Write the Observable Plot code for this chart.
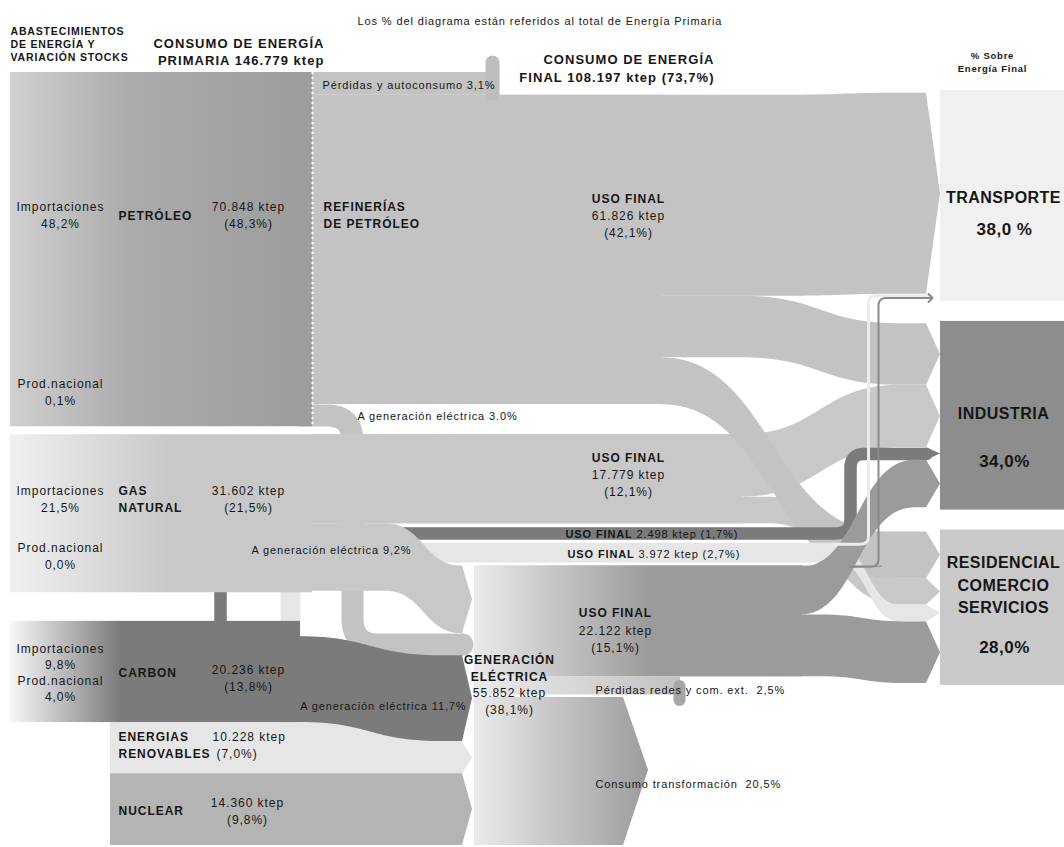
<!DOCTYPE html>
<html lang="es"><head><meta charset="utf-8">
<script src="https://cdn.jsdelivr.net/npm/d3@7"></script>
<script src="https://cdn.jsdelivr.net/npm/@observablehq/plot@0.6"></script>
<style>html,body{margin:0;padding:0;background:#fff;overflow:hidden}</style>
</head><body><div id="chart"></div>
<script>
// ================= DATA =================
const primaryTotalKtep = 146.779;
const primaryTitle = "CONSUMO DE ENERGÍA\nPRIMARIA 146.779 ktep";
const finalTitle = "CONSUMO DE ENERGÍA\nFINAL 108.197 ktep (73,7%)";
const noteText = "Los % del diagrama están referidos al total de Energía Primaria";
const supplyTitle = "ABASTECIMIENTOS\nDE ENERGÍA Y\nVARIACIÓN STOCKS";
const sectorTitle = "% Sobre\nEnergía Final";

const sourceNames = ["PETRÓLEO", "GAS\nNATURAL", "CARBON", "ENERGIAS\nRENOVABLES", "NUCLEAR"];
const sourceKtep = [70.848, 31.602, 20.236, 10.228, 14.360];
const sourceKtepLabel = ["70.848 ktep", "31.602 ktep", "20.236 ktep", "10.228 ktep", "14.360 ktep"];
const sourcePctLabel = ["(48,3%)", "(21,5%)", "(13,8%)", "(7,0%)", "(9,8%)"];
const importPct = ["48,2%", "21,5%", "9,8%"];
const nationalPct = ["0,1%", "0,0%", "4,0%"];

// final uses: oil, gas, coal, renewables, electricity
const finalUseKtep = [61.826, 17.779, 2.498, 3.972, 22.122];
const finalUseKtepLabel = ["61.826 ktep", "17.779 ktep", "2.498 ktep", "3.972 ktep", "22.122 ktep"];
const finalUsePctLabel = ["(42,1%)", "(12,1%)", "(1,7%)", "(2,7%)", "(15,1%)"];

const oilLossPct = 3.1, oilLossLabel = "3,1%";
const toPowerPct = [3.0, 9.2, 11.7];          // oil, gas, coal -> generación eléctrica
const toPowerLabel = ["3.0%", "9,2%", "11,7%"];
const genKtepLabel = "55.852 ktep", genPctLabel = "(38,1%)";
const genLossPct = 2.5, genTransformPct = 20.5;
const genLossLabel = "2,5%", genTransformLabel = "20,5%";

const sectorNames = ["TRANSPORTE", "INDUSTRIA", "RESIDENCIAL\nCOMERCIO\nSERVICIOS"];
const sectorPct = [38.0, 34.0, 28.0];
const sectorPctLabel = ["38,0 %", "34,0%", "28,0%"];

// estimated allocation of each final-use flow to [Transporte, Industria, Residencial] (ktep)
const oilToSector   = [40.2, 12.3, 9.326];
const gasToSector   = [0, 12.5, 5.279];
const coalToSector  = [0, 2.498, 0];
const renewToSector = [0.6, 0, 3.372];
const elecToSector  = [0.3, 9.5, 12.322];

// ================= LAYOUT =================
const W = 1064, H = 847, K = 5, topPx = 72;            // K: px per ktep
const yDomain = [-topPx / K, (H - topPx) / K];
const pagePx = px => (px - topPx) / K;                  // page position -> layout units
const kt = p => p * primaryTotalKtep / 100;
const X = {left: 10, fade: 110, ref: 312, coalEnd: 300, genIn: 462, gen: 474, secTip: 926, sec: 940,
           coalUp: 220, renewUp: 290, oilDown: 352};
const C = {oil: "#c3c3c3", gas: "#c8c8c8", coal: "#7b7b7b", ren: "#e6e6e6", nuc: "#b4b4b4", elec: "#9b9b9b",
           T: "#f0f0f0", I: "#8d8d8d", R: "#c9c9c9", text: "#161616"};

function stack(start, values, g = 0) {
  let y = start;
  return values.map(v => { const s = {y0: y, y1: y + v, c: y + v / 2}; y += v + g; return s; });
}
const slot = (y0, v) => ({y0, y1: y0 + v, c: y0 + v / 2});

const gapKt = 1.6;
const oil = slot(0, sourceKtep[0]);
const gas = slot(oil.y1 + gapKt, sourceKtep[1]);
const bottom = pagePx(H - 2);
const nuc = slot(bottom - sourceKtep[4], sourceKtep[4]);
const ren = slot(nuc.y0 - sourceKtep[3], sourceKtep[3]);
const coal = slot(ren.y0 - sourceKtep[2], sourceKtep[2]);

const oilLoss = kt(oilLossPct);
const oilGen = kt(toPowerPct[0]), gasGen = kt(toPowerPct[1]), coalGen = kt(toPowerPct[2]);
const renGen = sourceKtep[3] - finalUseKtep[3];
const genLoss = kt(genLossPct), genTrans = kt(genTransformPct);
const gen = slot(bottom - (finalUseKtep[4] + genLoss + genTrans), finalUseKtep[4] + genLoss + genTrans);

const oilSlots = stack(oil.y0 + oilLoss, oilToSector);
const oilGenSlot = slot(oilSlots[2].y1, oilGen);
const gasSlots = stack(gas.y0, gasToSector.slice(1));
const gasGenSlot = slot(gas.y0 + finalUseKtep[1], gasGen);
const coalLine = slot(gasGenSlot.y0 + 0.7, finalUseKtep[2]);
const renLine = slot(coalLine.y1 + 0.6, finalUseKtep[3]);
const elecSlots = stack(gen.y0, elecToSector);
const genIn = stack(gen.y0, [gasGen, oilGen, coalGen, renGen, sourceKtep[4]]);
const lossSlot = slot(elecSlots[2].y1, genLoss);
const transSlot = slot(lossSlot.y1, genTrans);

const secTop = pagePx(90), secBot = pagePx(685), secGap = 4;
const boxes = stack(secTop, sectorPct.map(p => p * (secBot - secTop - 2 * secGap) / 100), secGap);
const centered = (box, vals) => stack(box.y0 + ((box.y1 - box.y0) - d3.sum(vals)) / 2, vals);
const [tOil, tRen, tElec] = centered(boxes[0], [oilToSector[0], renewToSector[0], elecToSector[0]]);
const [iOil, iGas, iCoal, iElec] = centered(boxes[1], [oilToSector[1], gasToSector[1], coalToSector[1], elecToSector[1]]);
const [rOil, rGas, rRen, rElec] = centered(boxes[2], [oilToSector[2], gasToSector[2], renewToSector[2], elecToSector[2]]);

// ---- geometry helpers ----
function band(x0, s, xs, xe, t, x1) {
  const pts = [{x: x0, y1: s.y0, y2: s.y1}, {x: xs, y1: s.y0, y2: s.y1}, {x: xe, y1: t.y0, y2: t.y1}];
  if (x1 > xe) pts.push({x: x1, y1: t.y0, y2: t.y1});
  return pts;
}
const flat = (x0, s, x1) => [{x: x0, y1: s.y0, y2: s.y1}, {x: x1, y1: s.y0, y2: s.y1}];
const span = (a, b) => ({y0: a.y0, y1: b.y1});
const tip = (x0, s, x1) => [{x: x0, y1: s.y0, y2: s.y1}, {x: x1, y1: (s.y0 + s.y1) / 2, y2: (s.y0 + s.y1) / 2}];
function route(points, r) {
  const P = points.map(([x, y]) => [x, y * K]);
  const out = [P[0]];
  for (let i = 1; i < P.length - 1; i++) {
    const a = P[i - 1], b = P[i], c = P[i + 1];
    const d1 = Math.hypot(b[0] - a[0], b[1] - a[1]), d2 = Math.hypot(c[0] - b[0], c[1] - b[1]);
    const r1 = Math.min(r, d1 / 2), r2 = Math.min(r, d2 / 2);
    const p1 = [b[0] + (a[0] - b[0]) * r1 / d1, b[1] + (a[1] - b[1]) * r1 / d1];
    const p2 = [b[0] + (c[0] - b[0]) * r2 / d2, b[1] + (c[1] - b[1]) * r2 / d2];
    for (let k = 0; k <= 12; k++) {
      const t = k / 12, u = 1 - t;
      out.push([u * u * p1[0] + 2 * u * t * b[0] + t * t * p2[0], u * u * p1[1] + 2 * u * t * b[1] + t * t * p2[1]]);
    }
  }
  out.push(P[P.length - 1]);
  return out.map(([x, y]) => ({x, y: y / K}));
}
const A = (data, fill, curve = "bump-x") => Plot.areaY(data, {x: "x", y1: "y1", y2: "y2", fill, curve});
const TIP = (s, fill, x0 = X.secTip, x1 = X.sec) => A(tip(x0, s, x1), fill, "linear");
const LN = (pts, stroke, w, extra = {}) => Plot.line(pts, {x: "x", y: "y", stroke, strokeWidth: w, ...extra});
const R = (x1, x2, s, fill) => Plot.rect([{x1, x2, y1: s.y0, y2: s.y1}], {x1: "x1", x2: "x2", y1: "y1", y2: "y2", fill});
const TX = (data, o) => Plot.text(data, {x: "x", y: "y", text: "t", fill: C.text, lineAnchor: "middle",
  textAnchor: o.anchor || "middle", fontSize: o.size || 12, fontWeight: o.weight || "normal", lineHeight: o.lh || 1.42});

// ---- labels ----
const oilLab = oil.y0 + 0.40 * sourceKtep[0];
const gasLab = gas.y0 + 0.40 * sourceKtep[1];
const renLab = ren.c - 0.8;
const boldLabels = [
  {x: 118, y: oilLab, t: sourceNames[0]},
  {x: 118, y: gasLab, t: sourceNames[1]},
  {x: 118, y: coal.c, t: sourceNames[2]},
  {x: 118, y: renLab, t: sourceNames[3]},
  {x: 118, y: nuc.c, t: sourceNames[4]},
  {x: 323, y: oilLab, t: "REFINERÍAS\nDE PETRÓLEO"}
];
const lineBold = [
  {x: 565, y: coalLine.c, t: "USO FINAL"},
  {x: 567, y: renLine.c, t: "USO FINAL"}
];
const lineNormal = [
  {x: 636, y: coalLine.c, t: finalUseKtepLabel[2] + " " + finalUsePctLabel[2]},
  {x: 638, y: renLine.c, t: finalUseKtepLabel[3] + " " + finalUsePctLabel[3]}
];
const midBold = [
  {x: 628, y: oilSlots[0].y0 + 20.45, t: "USO FINAL"},
  {x: 628, y: gas.y0 + 4.4, t: "USO FINAL"},
  {x: 615, y: gen.y0 + 9.1, t: "USO FINAL"},
  {x: 509, y: gen.y0 + 20.2, t: "GENERACIÓN\nELÉCTRICA"}
];
const midNormal = [
  {x: 60, y: oilLab, t: "Importaciones\n" + importPct[0]},
  {x: 248, y: oilLab, t: sourceKtepLabel[0] + "\n" + sourcePctLabel[0]},
  {x: 60, y: oil.y0 + 0.9 * sourceKtep[0], t: "Prod.nacional\n" + nationalPct[0]},
  {x: 60, y: gasLab, t: "Importaciones\n" + importPct[1]},
  {x: 248, y: gasLab, t: sourceKtepLabel[1] + "\n" + sourcePctLabel[1]},
  {x: 60, y: gas.y0 + 0.76 * sourceKtep[1], t: "Prod.nacional\n" + nationalPct[1]},
  {x: 248, y: coal.c + 1.0, t: sourceKtepLabel[2] + "\n" + sourcePctLabel[2]},
  {x: 247, y: nuc.c, t: sourceKtepLabel[4] + "\n" + sourcePctLabel[4]},
  {x: 628, y: oilSlots[0].y0 + 25.55, t: finalUseKtepLabel[0] + "\n" + finalUsePctLabel[0]},
  {x: 628, y: gas.y0 + 9.5, t: finalUseKtepLabel[1] + "\n" + finalUsePctLabel[1]},
  {x: 615, y: gen.y0 + 14.4, t: finalUseKtepLabel[4] + "\n" + finalUsePctLabel[4]},
  {x: 509, y: gen.y0 + 26.8, t: genKtepLabel + "\n" + genPctLabel}
];
const coalImp = [{x: 60, y: coal.c, t: "Importaciones\n" + importPct[2] + "\nProd.nacional\n" + nationalPct[2]}];
const startNormal = [
  {x: 212, y: renLab - 1.7, t: sourceKtepLabel[3]},
  {x: 216, y: renLab + 1.7, t: sourcePctLabel[3]}
];
const smallStart = [
  {x: 322, y: oilLoss / 2, t: "Pérdidas y autoconsumo " + oilLossLabel},
  {x: 357, y: oilGenSlot.c, t: "A generación eléctrica " + toPowerLabel[0]},
  {x: 595, y: lossSlot.c + 0.6, t: "Pérdidas redes y com. ext.  " + genLossLabel},
  {x: 595, y: transSlot.c + 2.6, t: "Consumo transformación  " + genTransformLabel}
];
const smallEnd = [
  {x: 411, y: gasGenSlot.y0 + 5, t: "A generación eléctrica " + toPowerLabel[1]},
  {x: 466, y: genIn[2].c + 1.2, t: "A generación eléctrica " + toPowerLabel[2]}
];
const secFrac = [[0.5, 0.65], [0.48, 0.73], [0.345, 0.74]];
const secNames = boxes.map((b, i) => ({x: 1003, y: b.y0 + secFrac[i][0] * (b.y1 - b.y0), t: sectorNames[i]}));
const secPcts = boxes.map((b, i) => ({x: 1004, y: b.y0 + secFrac[i][1] * (b.y1 - b.y0), t: sectorPctLabel[i]}));

// ================= PLOT =================
const chart = Plot.plot({
  width: W, height: H, margin: 0,
  x: {domain: [0, W], range: [0, W], axis: null},
  y: {domain: yDomain, range: [0, H], axis: null},
  style: {fontFamily: "'Liberation Sans', Arial, sans-serif", background: "#fff", overflow: "hidden"},
  marks: [
    // sector boxes
    R(X.sec, W, boxes[0], C.T), R(X.sec, W, boxes[1], C.I), R(X.sec, W, boxes[2], C.R),
    // oil -> generación (behind gas)
    LN(route([[X.ref - 12, oilGenSlot.c], [X.oilDown, oilGenSlot.c], [X.oilDown, genIn[1].c], [X.genIn, genIn[1].c]], 26), C.oil, oilGen * K),
    // oil & gas final uses (flat trunks first, to avoid seams)
    A(flat(X.ref, span(oilSlots[0], oilSlots[2]), 662), C.oil, "linear"),
    A(flat(X.ref, span(gasSlots[0], gasSlots[1]), 742), C.gas, "linear"),
    A(band(X.ref, oilSlots[0], 780, 900, tOil, X.secTip), C.oil), TIP(tOil, C.oil),
    A(band(X.ref, oilSlots[1], 740, 900, iOil, X.secTip), C.oil), TIP(iOil, C.oil),
    A(band(X.ref, gasSlots[0], 740, 900, iGas, X.secTip), C.gas), TIP(iGas, C.gas),
    A(band(X.ref, gasSlots[1], 770, 900, rGas, X.secTip), C.gas), TIP(rGas, C.gas),
    A(band(X.ref, oilSlots[2], 660, 885, rOil, X.secTip), C.oil), TIP(rOil, C.oil),
    // renewables final use
    LN(route([[X.renewUp, ren.y0 + 3], [X.renewUp, renLine.c], [836, renLine.c]], 16), C.ren, finalUseKtep[3] * K),
    A(band(830, slot(renLine.y0 + renewToSector[0], renewToSector[2]), 836, 900, rRen, X.secTip), C.ren), TIP(rRen, C.ren),
    // coal final use
    LN(route([[X.coalUp, coal.y0 + 3], [X.coalUp, coalLine.c], [850, coalLine.c], [850, iCoal.c], [X.secTip, iCoal.c]], 14), C.coal, finalUseKtep[2] * K),
    TIP(iCoal, C.coal),
    // electricity final use
    A(flat(X.gen, span(elecSlots[0], elecSlots[2]), 802), "url(#gGen)", "linear"),
    A(band(X.gen, elecSlots[0], 870, 871, elecSlots[0], 882), "url(#gGen)"),
    A(band(X.gen, elecSlots[1], 800, 915, iElec, X.secTip), "url(#gGen)"), TIP(iElec, C.elec),
    A(band(X.gen, elecSlots[2], 820, 905, rElec, X.secTip), "url(#gGen)"), TIP(rElec, C.elec),
    // thin flows to transport
    LN(route([[832, renLine.y0 + 0.3], [868, renLine.y0 + 0.3], [868, tRen.c], [X.secTip + 4, tRen.c]], 8), "#ececec", 3),
    LN(route([[850, elecSlots[0].c], [878, elecSlots[0].c], [878, tElec.c], [X.secTip + 4, tElec.c]], 8), "#8a8a8a", 2, {markerEnd: "arrow"}),
    // oil node
    A(band(X.ref, slot(0, oilLoss), 480, 481, slot(0, oilLoss), 488), C.oil, "linear"),
    LN([{x: 492, y: oilLoss - 0.3}, {x: 492, y: pagePx(62)}], "#bdbdbd", 14, {strokeLinecap: "round"}),
    R(X.left, X.ref, oil, "url(#gOil)"),
    Plot.ruleX([X.ref], {y1: oil.y0, y2: oil.y1, stroke: "#fff", strokeWidth: 2, strokeDasharray: "2,3"}),
    // gas node
    R(X.left, X.ref, gas, "url(#gGas)"),
    A(band(X.ref, gasGenSlot, 385, X.genIn, genIn[0], X.genIn), C.gas), TIP(genIn[0], C.gas, X.genIn, X.genIn + 10),
    // renewables & nuclear
    R(X.fade, X.genIn, ren, C.ren), TIP(slot(ren.y1 - renGen, renGen), C.ren, X.genIn, X.genIn + 10),
    R(X.fade, X.genIn, nuc, C.nuc), TIP(nuc, C.nuc, X.genIn, X.genIn + 10),
    // coal
    R(X.left, X.coalEnd, coal, "url(#gCoal)"),
    A(band(X.coalEnd - 4, slot(coal.y1 - coalGen, coalGen), X.coalEnd, 440, genIn[2], X.genIn), C.coal),
    TIP(genIn[2], C.coal, X.genIn, X.genIn + 10),
    TIP(genIn[1], C.oil, X.genIn, X.genIn + 10),
    // generación eléctrica: losses and transformation
    A(flat(X.gen, lossSlot, 680), "url(#gGenL)", "linear"),
    LN([{x: 679, y: lossSlot.c}, {x: 679, y: lossSlot.y1 + 1.0}], "#a6a6a6", 12, {strokeLinecap: "round"}),
    A([{x: X.gen, y1: transSlot.y0 + 0.5, y2: transSlot.y1}, {x: 623, y1: transSlot.y0 + 0.5, y2: transSlot.y1},
       {x: 648, y1: transSlot.c, y2: transSlot.c}], "url(#gGen)", "linear"),
    // ---- texts ----
    TX([{x: 10, y: pagePx(43), t: supplyTitle}], {anchor: "start", size: 10.5, weight: "bold", lh: 1.24}),
    TX([{x: 324, y: pagePx(50.5), t: primaryTitle}], {anchor: "end", size: 13, weight: "bold", lh: 1.3}),
    TX([{x: 357, y: pagePx(19), t: noteText}], {anchor: "start", size: 11}),
    TX([{x: 714, y: pagePx(67), t: finalTitle}], {anchor: "end", size: 13, weight: "bold", lh: 1.38}),
    TX([{x: 992, y: pagePx(61), t: sectorTitle}], {size: 9.5, weight: "bold", lh: 1.3}),
    TX(boldLabels, {anchor: "start", weight: "bold", lh: 1.42}),
    TX(lineBold, {anchor: "start", weight: "bold", size: 11}),
    TX(lineNormal, {anchor: "start", size: 11}),
    TX(midBold, {weight: "bold", lh: 1.42}),
    TX(midNormal, {lh: 1.42}),
    TX(coalImp, {lh: 1.35}),
    TX(startNormal, {anchor: "start"}),
    TX(smallStart, {anchor: "start", size: 11}),
    TX(smallEnd, {anchor: "end", size: 11}),
    TX(secNames, {size: 16, weight: "bold", lh: 1.4}),
    TX(secPcts, {size: 17, weight: "bold"})
  ]
});

// gradients (positions through the x scale)
const sx = chart.scale("x");
const defs = d3.select(chart).insert("defs", ":first-child");
function grad(id, x1, x2, stops) {
  const g = defs.append("linearGradient").attr("id", id).attr("gradientUnits", "userSpaceOnUse")
    .attr("x1", sx.apply(x1)).attr("x2", sx.apply(x2)).attr("y1", 0).attr("y2", 0);
  stops.forEach(([o, c]) => g.append("stop").attr("offset", o).attr("stop-color", c));
}
grad("gOil", X.left, X.ref, [[0, "#d0d0d0"], [0.4, "#ababab"], [1, "#9c9c9c"]]);
grad("gGas", X.left, 170, [[0, "#f0f0f0"], [1, C.gas]]);
grad("gCoal", X.left, 120, [[0, "#f7f7f7"], [1, C.coal]]);
grad("gGen", X.gen, 650, [[0, "#eaeaea"], [1, C.elec]]);
grad("gGenL", X.gen, 680, [[0, "#eaeaea"], [1, "#c2c2c2"]]);
chart.querySelectorAll("text").forEach(t => {
  const big = +(t.closest("g")?.getAttribute("font-size") || 12) >= 16;
  t.style.letterSpacing = big ? "0.03em" : "0.08em";
});
document.getElementById("chart").append(chart);
</script></body></html>
